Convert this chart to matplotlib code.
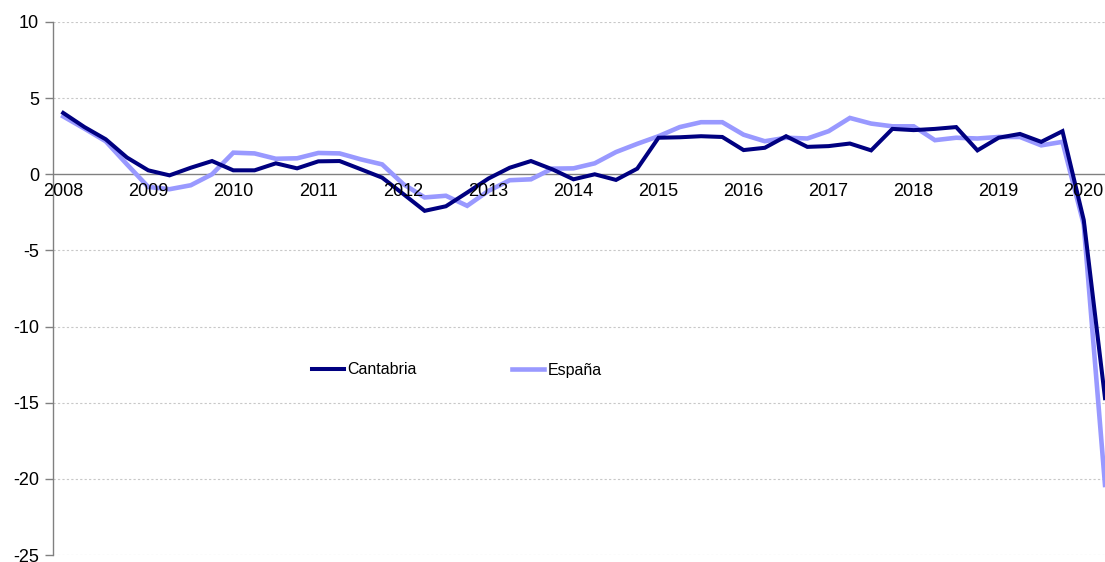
import matplotlib
matplotlib.use("Agg")
import matplotlib.pyplot as plt
import numpy as np

plt.rcParams['font.family'] = ['Liberation Sans', 'DejaVu Sans']
plt.rcParams['axes.unicode_minus'] = False

years = ['2008', '2009', '2010', '2011', '2012', '2013', '2014',
         '2015', '2016', '2017', '2018', '2019', '2020']

cantabria = [4.03, 3.1, 2.3, 1.1,
             0.26, -0.07, 0.43, 0.87,
             0.26, 0.26, 0.72, 0.39,
             0.85, 0.87, 0.33, -0.22,
             -1.3, -2.4, -2.1, -1.2,
             -0.28, 0.43, 0.87, 0.33,
             -0.33, 0.0, -0.37, 0.37,
             2.4, 2.43, 2.5, 2.45,
             1.59, 1.74, 2.5, 1.8,
             1.85, 2.02, 1.57, 2.98,
             2.9, 2.98, 3.1, 1.57,
             2.4, 2.65, 2.13, 2.83,
             -3.0, -14.7]

espana = [3.8, 3.0, 2.17, 0.65,
          -0.83, -0.98, -0.72, 0.0,
          1.42, 1.37, 1.02, 1.05,
          1.4, 1.37, 0.98, 0.65,
          -0.65, -1.52, -1.41, -2.07,
          -1.09, -0.39, -0.33, 0.37,
          0.39, 0.72, 1.46, 2.0,
          2.5, 3.1, 3.42, 3.42,
          2.6, 2.17, 2.4, 2.35,
          2.83, 3.7, 3.33, 3.15,
          3.15, 2.24, 2.4, 2.35,
          2.45, 2.45, 1.9, 2.13,
          -3.3, -20.4]

x = np.arange(len(cantabria))

fig = plt.figure(figsize=(11.05, 5.62), dpi=100)
ax = fig.add_axes([53/1105, 1-555/562, 1-53/1105, 533/562])

ax.set_xlim(-0.48, 49)
ax.set_ylim(-25, 10)

for yv in range(-25, 11, 5):
    if yv != 0:
        ax.axhline(yv, color='#c8c8c8', lw=0.8, ls=(0, (2, 2)), zorder=1)
ax.axhline(0, color='#808080', lw=1.0, zorder=2)

ax.plot(x, cantabria, color='#000080', lw=2.9, label='Cantabria', zorder=4,
        solid_joinstyle='miter')
ax.plot(x, espana, color='#9999FF', lw=3.3, label='España', zorder=3,
        solid_joinstyle='miter')

for s in ['top', 'right', 'bottom']:
    ax.spines[s].set_visible(False)
ax.spines['left'].set_color('#808080')
ax.spines['left'].set_linewidth(1.0)

ax.set_yticks(range(-25, 11, 5))
ax.tick_params(axis='y', length=6, width=1, color='#808080', labelsize=13,
               pad=4, direction='out')
ax.set_xticks([])

for i, yr in enumerate(years):
    ax.text(i*4, -0.6, yr, ha='center', va='top', fontsize=13, color='black',
            zorder=5)

leg = fig.legend(loc='center left', bbox_to_anchor=(312/1105, 1-370/562),
                 ncol=2, frameon=False, fontsize=11.5, handlelength=2.0,
                 handletextpad=0.2, columnspacing=6.0, borderpad=0,
                 borderaxespad=0)

fig.savefig('out.png', dpi=100)
